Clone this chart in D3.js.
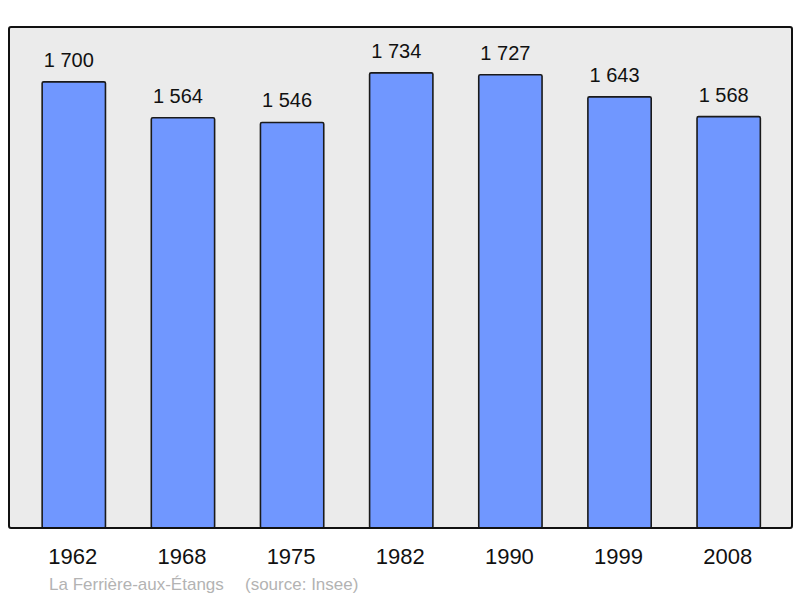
<!DOCTYPE html>
<html>
<head>
<meta charset="utf-8">
<script src="https://cdn.jsdelivr.net/npm/d3@7"></script>
<style>
  body { margin: 0; background: #fff; }
  text { font-family: "Liberation Sans", Arial, sans-serif; }
</style>
</head>
<body>
<svg id="chart" width="800" height="598"></svg>
<script>
var years = ["1962", "1968", "1975", "1982", "1990", "1999", "2008"];
var population = [1700, 1564, 1546, 1734, 1727, 1643, 1568];
var townName = "La Ferrière-aux-Étangs";
var sourceText = "(source: Insee)";

var svg = d3.select("#chart");

var plot = {left: 9, top: 27, right: 792, bottom: 528};

var x = d3.scaleBand()
    .domain(years)
    .range([plot.left + 1.5, plot.right])
    .paddingInner(0.42)
    .paddingOuter(0.29);

var y = d3.scaleLinear()
    .domain([0, 1908])
    .range([530, plot.top]);

// background frame
svg.append("rect")
    .attr("x", plot.left)
    .attr("y", plot.top)
    .attr("width", plot.right - plot.left)
    .attr("height", plot.bottom - plot.top)
    .attr("rx", 2)
    .attr("fill", "#ebebeb");

var data = years.map(function(d, i) { return {year: d, value: population[i]}; });

svg.selectAll("rect.bar")
    .data(data)
  .enter().append("rect")
    .attr("class", "bar")
    .attr("x", function(d) { return x(d.year); })
    .attr("y", function(d) { return y(d.value); })
    .attr("width", x.bandwidth())
    .attr("height", function(d) { return plot.bottom - y(d.value); })
    .attr("rx", 1.5)
    .attr("fill", "#7097ff")
    .attr("stroke", "#1a1a1a")
    .attr("stroke-width", 1.6);

// value labels (sit a little left of the bar centre, as in the original)
svg.selectAll("text.value")
    .data(data)
  .enter().append("text")
    .attr("class", "value")
    .attr("x", function(d) { return x(d.year) + x.bandwidth() / 2 - 5; })
    .attr("y", function(d) { return y(d.value) - 15; })
    .attr("text-anchor", "middle")
    .attr("font-size", 20)
    .attr("fill", "#111")
    .text(function(d) { return d3.format(",")(d.value).replace(",", " "); });

// frame outline on top
svg.append("rect")
    .attr("x", plot.left)
    .attr("y", plot.top)
    .attr("width", plot.right - plot.left)
    .attr("height", plot.bottom - plot.top)
    .attr("rx", 2)
    .attr("fill", "none")
    .attr("stroke", "#111")
    .attr("stroke-width", 2);

// year labels
svg.selectAll("text.year")
    .data(years)
  .enter().append("text")
    .attr("class", "year")
    .attr("x", function(d) { return x(d) + x.bandwidth() / 2 - 1; })
    .attr("y", 564)
    .attr("text-anchor", "middle")
    .attr("font-size", 22)
    .attr("fill", "#111")
    .text(function(d) { return d; });

// footer
svg.append("text")
    .attr("x", 49)
    .attr("y", 590)
    .attr("font-size", 17)
    .attr("fill", "#b3b3b3")
    .text(townName);

svg.append("text")
    .attr("x", 245)
    .attr("y", 590)
    .attr("font-size", 17)
    .attr("fill", "#b3b3b3")
    .text(sourceText);
</script>
</body>
</html>
